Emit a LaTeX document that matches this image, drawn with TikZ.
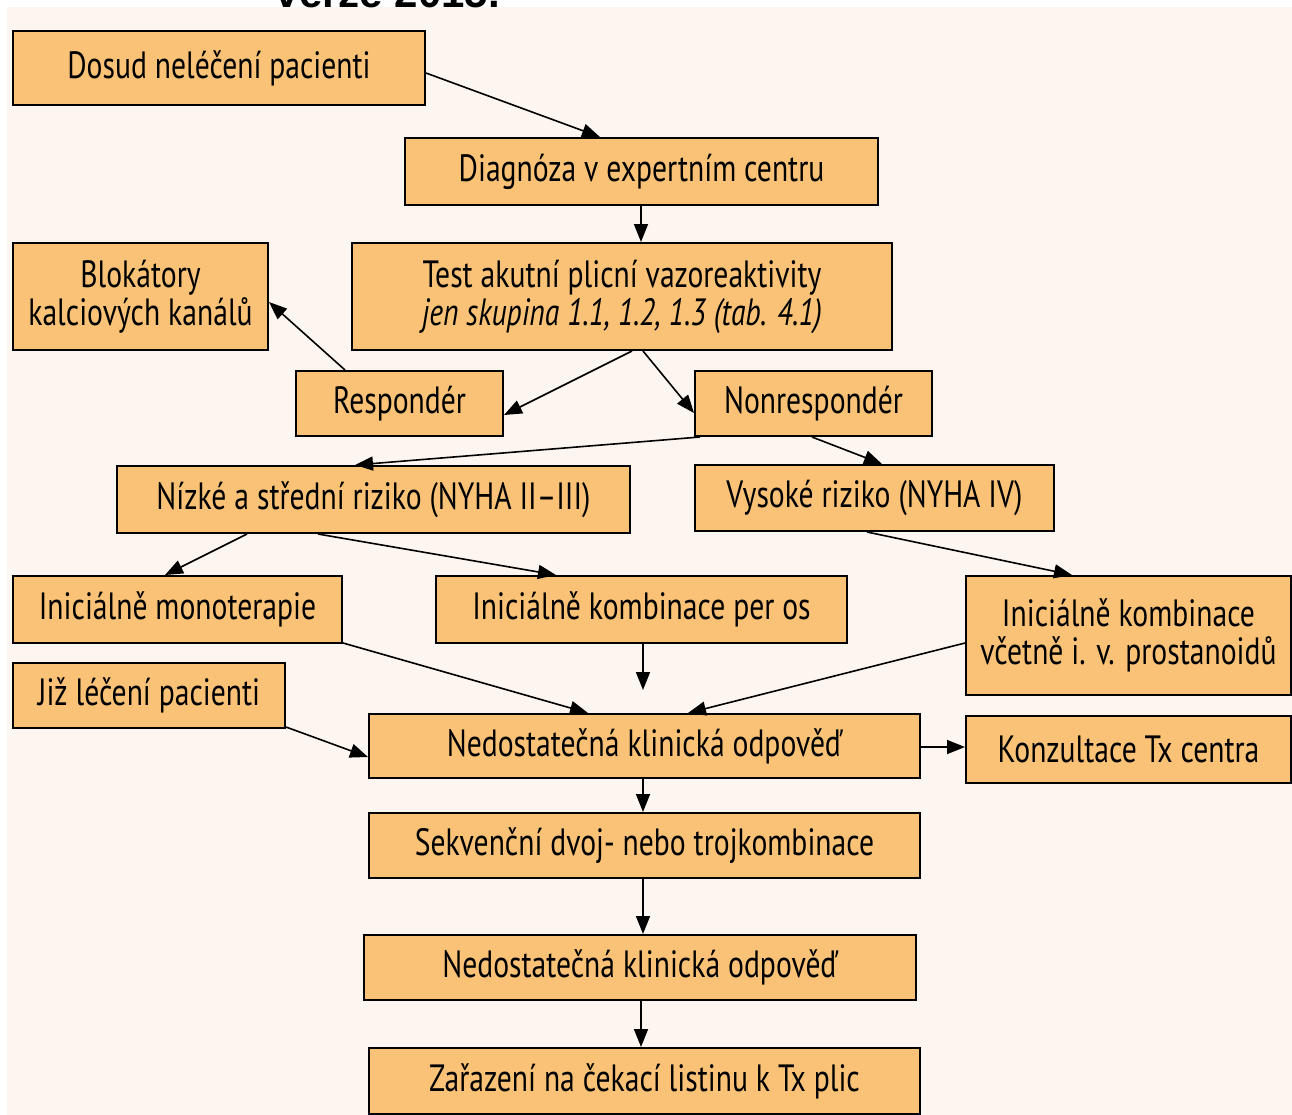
\documentclass[tikz,border=0pt]{standalone}
\usepackage{fontspec}
\setmainfont[FakeStretch=0.78]{PT Sans}
\newfontfamily\titlefont{Liberation Sans}
\usetikzlibrary{arrows.meta}
\definecolor{boxfill}{HTML}{F9C277}
\definecolor{bgcream}{HTML}{FDF6F0}
\tikzset{
  box/.style={draw=black, line width=1pt, fill=boxfill, inner sep=0pt, align=center,
     font=\fontsize{19}{22}\selectfont},
  arr/.style={line width=0.8pt, -{Triangle[length=9pt,width=7pt]}},
}
\begin{document}
\begin{tikzpicture}[x=0.5pt,y=-0.5pt]
\useasboundingbox (0,0) rectangle (1292,1115);
\fill[white] (0,0) rectangle (1292,1115);
\fill[bgcream] (7,7) rectangle (1292,1115);
\begin{scope}
\clip (0,0) rectangle (1292,1115);
\node[anchor=base, inner sep=0pt, font=\titlefont\bfseries\fontsize{21}{24}\selectfont] (title) at (388,7) {verze 2015.};
\end{scope}

\node[box, minimum width=206pt, minimum height=37pt] (d1) at (219,68) {Dosud neléčení pacienti};
\node[box, minimum width=236.5pt, minimum height=33.5pt] (diag) at (641.5,171.5) {Diagnóza v expertním centru};
\node[box, minimum width=270pt, minimum height=53.5pt] (test) at (622,296.5) {Test akutní plicní vazoreaktivity\\[-3pt] \itshape jen skupina 1.1, 1.2, 1.3 (tab. 4.1)};
\node[box, minimum width=127.5pt, minimum height=53.5pt] (blok) at (140.5,296.5) {Blokátory\\[-3pt] kalciových kanálů};
\node[box, minimum width=103.5pt, minimum height=32.5pt] (resp) at (399.5,403.5) {Respondér};
\node[box, minimum width=118.5pt, minimum height=32.5pt] (nonresp) at (813.5,403.5) {Nonrespondér};
\node[box, minimum width=256.5pt, minimum height=33.5pt] (nizke) at (373.5,499.5) {Nízké a střední riziko (NYHA II–III)};
\node[box, minimum width=179.5pt, minimum height=33pt] (vysoke) at (874.5,498) {Vysoké riziko (NYHA IV)};
\node[box, minimum width=164.5pt, minimum height=33.5pt] (mono) at (177.5,609.5) {Iniciálně monoterapie};
\node[box, minimum width=205.5pt, minimum height=33.5pt] (peros) at (641.5,609.5) {Iniciálně kombinace per os};
\node[box, minimum width=162.5pt, minimum height=59.5pt] (prost) at (1128.5,635.5) {Iniciálně kombinace\\[-3pt] včetně i. v. prostanoidů};
\node[box, minimum width=136pt, minimum height=32.5pt] (jiz) at (149,695.5) {Již léčení pacienti};
\node[box, minimum width=275.5pt, minimum height=32pt] (ned1) at (644.5,746) {Nedostatečná klinická odpověď};
\node[box, minimum width=162.5pt, minimum height=33.5pt] (konz) at (1128.5,749.5) {Konzultace Tx centra};
\node[box, minimum width=275.5pt, minimum height=32.5pt] (sekv) at (644.5,845.5) {Sekvenční dvoj- nebo trojkombinace};
\node[box, minimum width=276pt, minimum height=32.5pt] (ned2) at (640,967.5) {Nedostatečná klinická odpověď};
\node[box, minimum width=275.5pt, minimum height=33pt] (zar) at (644.5,1081) {Zařazení na čekací listinu k Tx plic};

\coordinate (perosend) at (643,690);

\draw[arr] (d1.east |- 0,73) -- (diag.north -| 600,0);
\draw[arr] (diag.south -| 641,0) -- (test.north -| 641,0);
\draw[arr] (test.south -| 632,0) -- (resp.east |- 0,415);
\draw[arr] (test.south -| 643,0) -- (nonresp.west |- 0,413);
\draw[arr] (resp.north -| 345,0) -- (blok.east |- 0,302);
\draw[arr] (nonresp.south -| 700,0) -- (nizke.north -| 355,0);
\draw[arr] (nonresp.south -| 812,0) -- (vysoke.north -| 882,0);
\draw[arr] (nizke.south -| 247,0) -- (mono.north -| 165,0);
\draw[arr] (nizke.south -| 318,0) -- (peros.north -| 556,0);
\draw[arr] (vysoke.south -| 867,0) -- (prost.north -| 1072,0);
\draw[arr] (mono.east |- 0,643) -- (ned1.north -| 588,0);
\draw[arr] (peros.south -| 643,0) -- (perosend);
\draw[arr] (prost.west |- 0,643) -- (ned1.north -| 688,0);
\draw[arr] (jiz.east |- 0,727) -- (ned1.west |- 0,757);
\draw[arr] (ned1.east |- 0,747) -- (konz.west |- 0,747);
\draw[arr] (ned1.south -| 643,0) -- (sekv.north -| 643,0);
\draw[arr] (sekv.south -| 643,0) -- (ned2.north -| 643,0);
\draw[arr] (ned2.south -| 641,0) -- (zar.north -| 641,0);
\end{tikzpicture}
\end{document}
